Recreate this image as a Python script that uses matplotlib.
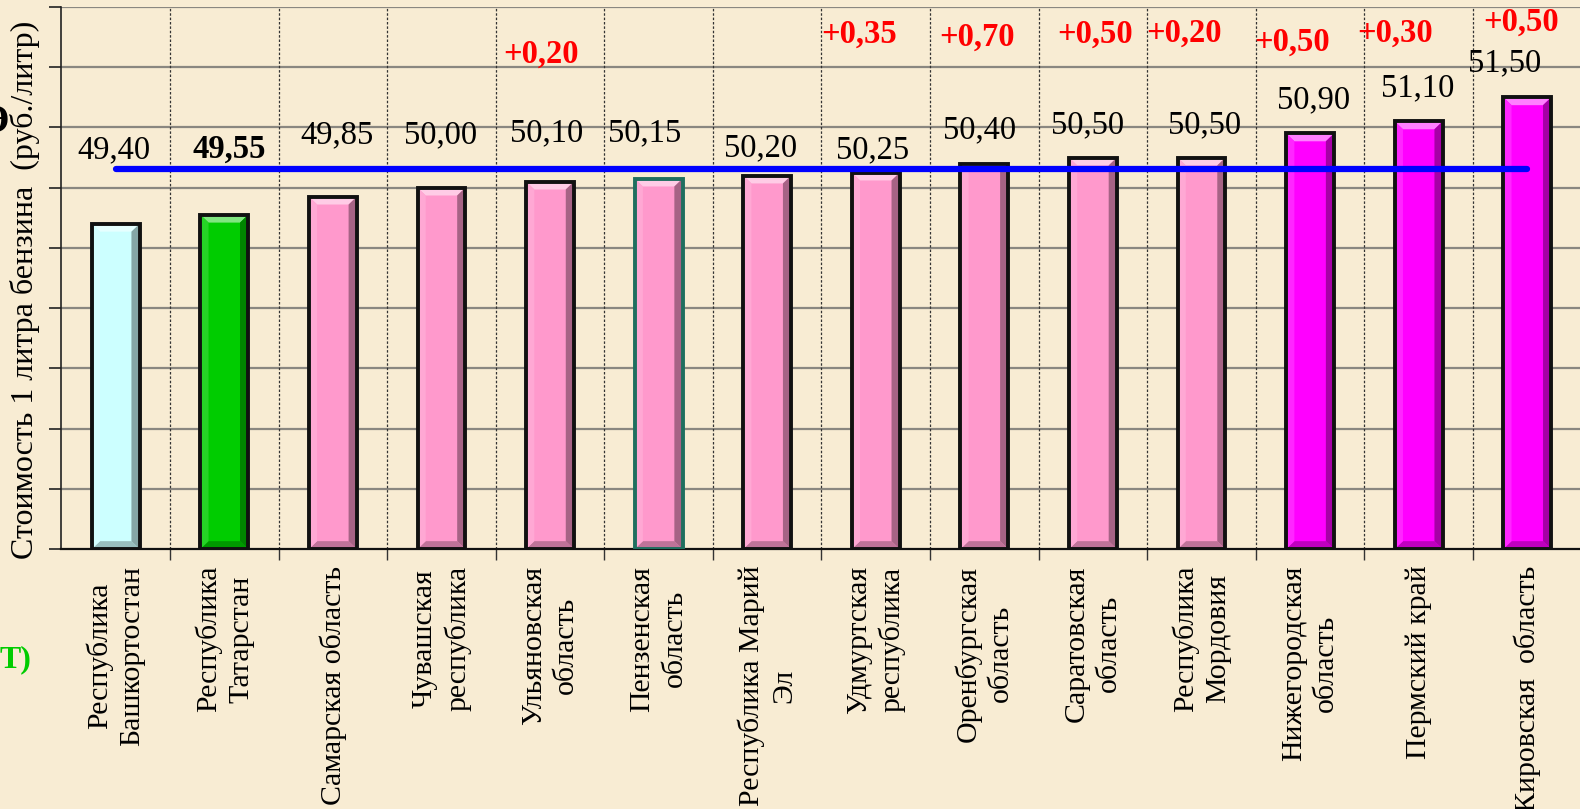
import matplotlib
matplotlib.use("Agg")
import matplotlib.pyplot as plt
import numpy as np
from matplotlib.colors import to_rgb

# ---------------- data ----------------
regions = ["Республика\nБашкортостан", "Республика\nТатарстан", "Самарская область",
           "Чувашская\nреспублика", "Ульяновская\nобласть", "Пензенская\nобласть",
           "Республика Марий\nЭл", "Удмуртская\nреспублика", "Оренбургская\nобласть",
           "Саратовская\nобласть", "Республика\nМордовия", "Нижегородская\nобласть",
           "Пермский край", "Кировская  область"]
prices = [49.40, 49.55, 49.85, 50.00, 50.10, 50.15, 50.20, 50.25, 50.40,
          50.50, 50.50, 50.90, 51.10, 51.50]
increase_idx = [4, 7, 8, 9, 10, 11, 12, 13]
increase_val = [0.20, 0.35, 0.70, 0.50, 0.20, 0.50, 0.30, 0.50]
bar_colors = ["#CCFFFF", "#00CC00"] + ["#FF99CC"] * 9 + ["#FF00FF"] * 3
edge_colors = ["#111111"] * 5 + ["#1F6F5F"] + ["#111111"] * 8
ylabel = "Стоимость 1 литра бензина  (руб./литр)"

# ---------------- layout (label placement) ----------------
val_lab_dx = [-0.02, 0.05, 0.04, -0.01, -0.03, -0.13, -0.06, -0.03, -0.04, -0.05, 0.03, 0.03, -0.01, -0.21]
val_lab_y = [50.63, 50.63, 50.88, 50.88, 50.91, 50.91, 50.66, 50.63, 50.96, 51.04, 51.04, 51.46, 51.66, 52.07]
inc_lab_dx = [-0.08, -0.15, -0.07, 0.02, -0.16, -0.17, -0.22, -0.06]
inc_lab_y = [52.21, 52.54, 52.49, 52.54, 52.57, 52.41, 52.57, 52.74]

BG = "#F8ECD3"
SERIF = ["Liberation Serif", "DejaVu Serif"]

fig = plt.figure(figsize=(15.8, 8.09), dpi=100, facecolor=BG)
ax = fig.add_axes([61.4 / 1580, 1 - 549 / 809, 1 - 61.4 / 1580 + 0.001, (549 - 7) / 809])
ax.set_facecolor(BG)

n = len(prices)
x = np.arange(n)
ymin, ymax = 44, 53
ax.set_xlim(-0.5, n - 0.5)
ax.set_ylim(ymin, ymax)

# gridlines
for yv in range(ymin + 1, ymax + 1):
    ax.axhline(yv, color="#8A8780", lw=1.6, zorder=1)
for xv in np.arange(0.5, n - 0.5, 1.0):
    ax.axvline(xv, color="#333333", lw=0.9, ls=(0, (2, 1.5)), zorder=1)

# bars
w = 0.44
ax.bar(x, np.array(prices) - ymin, bottom=ymin, width=w, color=bar_colors, zorder=2, linewidth=0)

# bevel effect
def shade(c, f):
    r = np.array(to_rgb(c))
    if f >= 0:
        return tuple(r + (1 - r) * f)
    return tuple(r * (1 + f))

bx = 0.075
by = 0.13
for xi, v, c in zip(x, prices, bar_colors):
    l, r = xi - w / 2, xi + w / 2
    b, t = ymin, v
    ax.fill([l, r, r - bx, l + bx], [t, t, t - by, t - by], color=shade(c, 0.5), zorder=2.2, lw=0)
    ax.fill([l, r, r - bx, l + bx], [b, b, b + by, b + by], color=shade(c, -0.25), zorder=2.2, lw=0)
    ax.fill([l, l + bx, l + bx, l], [b, b + by, t - by, t], color=shade(c, 0.15), zorder=2.2, lw=0)
    ax.fill([r, r - bx, r - bx, r], [b, b + by, t - by, t], color=shade(c, -0.35), zorder=2.2, lw=0)

ax.bar(x, np.array(prices) - ymin, bottom=ymin, width=w, fill=False,
       edgecolor=edge_colors, linewidth=2.8, zorder=3)

# average line
avg = float(np.mean(prices))
ax.plot([x[0], x[-1]], [avg, avg], color="#0000FF", lw=4.5, solid_capstyle="round", zorder=4)

# value labels
for i, v in enumerate(prices):
    ax.text(x[i] + val_lab_dx[i], val_lab_y[i], f"{v:.2f}".replace(".", ","),
            ha="center", va="center", fontsize=23.5, family=SERIF,
            fontweight="bold" if i == 1 else "normal", color="black", zorder=5)

for k, (i, d) in enumerate(zip(increase_idx, increase_val)):
    ax.text(x[i] + inc_lab_dx[k], inc_lab_y[k], "+" + f"{d:.2f}".replace(".", ","),
            ha="center", va="center", fontsize=23.5, family=SERIF, fontweight="bold",
            color="#FF0000", zorder=5)

# axes styling
for s in ["top", "right"]:
    ax.spines[s].set_visible(False)
ax.spines["left"].set_color("#222222")
ax.spines["bottom"].set_color("#111111")
ax.spines["left"].set_linewidth(1.2)
ax.spines["bottom"].set_linewidth(1.6)

ax.set_yticks(range(ymin, ymax + 1))
ax.set_yticklabels([])
ax.tick_params(axis="y", length=9, width=1.2, color="#222222")

ax.set_xticks(x)
ax.set_xticklabels(regions, rotation=90, va="top", ha="center", multialignment="center",
                   fontsize=21.5, family=SERIF, linespacing=1.3)
ax.tick_params(axis="x", which="major", length=0, pad=12)
ax.set_xticks(np.arange(0.5, n - 0.5, 1.0), minor=True)
ax.tick_params(axis="x", which="minor", length=8, width=1.0, color="#333333")

fig.text(25 / 1580, 1 - 290 / 809, ylabel, rotation=90, ha="center", va="center",
         fontsize=23, family=SERIF)

# cut-off fragments at the left edge (as in the reference)
fig.text(9 / 1580, 1 - 122 / 809, "Э", ha="right", va="center", fontsize=28,
         family=SERIF, fontweight="bold", color="black")
fig.text(31 / 1580, 1 - 660 / 809, "Т)", ha="right", va="center", fontsize=23,
         family=SERIF, fontweight="bold", color="#00CC00")

fig.savefig("out.png", dpi=100, facecolor=BG)
